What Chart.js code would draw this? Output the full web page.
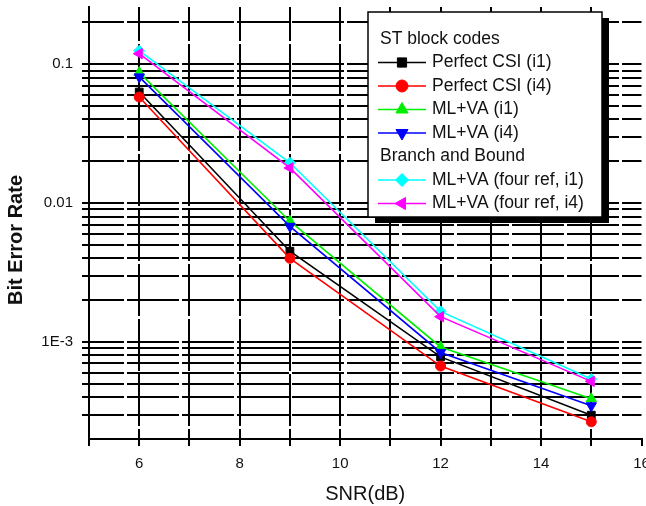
<!doctype html>
<html>
<head>
    <title>Bit Error Rate vs SNR</title>
    <meta charset="UTF-8">
    <script src="https://cdn.jsdelivr.net/npm/chart.js@4.4.0/dist/chart.umd.min.js"></script>
    <style>
        html, body { margin: 0; padding: 0; background: #fff; overflow: hidden; }
        /* canvas a bit wider than the window so the "16" label gets cut like the original */
        #canvas-holder { width: 660px; height: 506px; }
    </style>
</head>
<body>
<div id="canvas-holder">
    <canvas id="chart-area" width="660" height="506"></canvas>
</div>
<script>
    // SNR (dB) values on the x axis
    var snr = [6, 9, 12, 15];

    // bit error rate
    var perfectCsiI1 = [0.063, 0.0045, 0.00078, 0.000297];
    var perfectCsiI4 = [0.058, 0.0040, 0.00067, 0.000266];
    var mlVaI1 = [0.087, 0.0074, 0.00092, 0.00039];
    var mlVaI4 = [0.081, 0.0068, 0.00084, 0.000347];
    var mlVaFourRefI1 = [0.125, 0.0195, 0.00166, 0.00054];
    var mlVaFourRefI4 = [0.119, 0.0179, 0.00152, 0.00052];

    var seriesNames = ['Perfect CSI (i1)', 'Perfect CSI (i4)', 'ML+VA (i1)', 'ML+VA (i4)',
        'ML+VA (four ref, i1)', 'ML+VA (four ref, i4)'];
    var seriesValues = [perfectCsiI1, perfectCsiI4, mlVaI1, mlVaI4, mlVaFourRefI1, mlVaFourRefI4];

    // legend section headers and which series sit under each
    var legendHeaders = ['ST block codes', 'Branch and Bound'];
    var legendGroups = [[0, 1, 2, 3], [4, 5]];

    // tick labels
    var xLabelValues = [6, 8, 10, 12, 14, 16];
    var yLabelValues = [0.1, 0.01, 0.001];
    var yLabelTexts = ['0.1', '0.01', '1E-3'];

    var xMin = 5, xMax = 16;
    var yMin = 0.0002, yMax = 0.258;

    var colors = ['#000000', '#ff0000', '#00ee00', '#0000ff', '#00ffff', '#ff00ff'];
    var markers = ['rect', 'circle', 'triangle', 'triangle', 'rectRot', 'triangle'];
    var markerRot = [0, 0, 0, 180, 0, 270];
    var markerSize = [5.5, 5, 6, 6, 5.5, 6];

    // log grid lines 1..9 x 10^n inside the range
    var yGridValues = [];
    for (var e = -4; e <= -1; e++) {
        for (var m = 1; m <= 9; m++) {
            var v = parseFloat((m * Math.pow(10, e)).toPrecision(3));
            if (v > yMin * 1.0001 && v < yMax) yGridValues.push(v);
        }
    }

    var datasets = [];
    for (var i = 0; i < seriesNames.length; i++) {
        datasets.push({
            label: seriesNames[i],
            data: snr.map(function (x, k) { return {x: x, y: seriesValues[i][k]}; }),
            borderColor: colors[i],
            backgroundColor: colors[i],
            borderWidth: 1.6,
            pointStyle: markers[i],
            rotation: markerRot[i],
            pointRadius: markerSize[i],
            pointBorderWidth: 1,
            pointBackgroundColor: colors[i],
            pointBorderColor: colors[i],
            order: seriesNames.length - i,
            tension: 0
        });
    }

    // legend box with section headers, drawn on top of the plot
    var boxLegend = {
        id: 'boxLegend',
        afterDraw: function (chart) {
            var ctx = chart.ctx;
            var bx = 368, by = 12, bw = 234, bh = 205;
            ctx.save();
            ctx.fillStyle = '#000';
            ctx.fillRect(bx + 7, by + 6, bw, bh);
            ctx.fillStyle = '#fff';
            ctx.fillRect(bx, by, bw, bh);
            ctx.strokeStyle = '#000';
            ctx.lineWidth = 1.5;
            ctx.strokeRect(bx, by, bw, bh);

            ctx.font = '17.5px "Liberation Sans", Arial, sans-serif';
            ctx.textBaseline = 'middle';
            ctx.textAlign = 'left';
            var y = 39, step = 23.5;
            legendGroups.forEach(function (group, g) {
                ctx.fillStyle = '#111';
                ctx.fillText(legendHeaders[g], 380, y);
                y += step;
                group.forEach(function (idx) {
                    ctx.strokeStyle = colors[idx];
                    ctx.lineWidth = 1.5;
                    ctx.beginPath();
                    ctx.moveTo(378, y);
                    ctx.lineTo(426, y);
                    ctx.stroke();
                    ctx.fillStyle = colors[idx];
                    ctx.strokeStyle = colors[idx];
                    ctx.lineWidth = 1;
                    Chart.helpers.drawPoint(ctx, {
                        pointStyle: markers[idx],
                        rotation: markerRot[idx],
                        radius: markerSize[idx] + 1,
                        borderWidth: 1
                    }, 402, y);
                    ctx.fillStyle = '#111';
                    ctx.fillText(seriesNames[idx], 432, y);
                    y += step;
                });
            });

            // y axis title
            ctx.translate(16, 240);
            ctx.rotate(-Math.PI / 2);
            ctx.textAlign = 'center';
            ctx.font = 'bold 20px "Liberation Sans", Arial, sans-serif';
            ctx.fillStyle = '#111';
            ctx.fillText('Bit Error Rate', 0, 0);
            ctx.restore();
        }
    };

    var gridColor = function (c) {
        return (c.tick && c.tick.value === xMax) ? 'rgba(0,0,0,0)' : '#000';
    };

    var config = {
        type: 'line',
        data: {datasets: datasets},
        options: {
            responsive: false,
            devicePixelRatio: 1,
            animation: false,
            layout: {padding: {top: 6, right: 18.5, left: 0, bottom: 0}},
            plugins: {
                legend: {display: false},
                tooltip: {enabled: false}
            },
            scales: {
                x: {
                    type: 'linear',
                    min: xMin,
                    max: xMax,
                    afterFit: function (s) {
                        s.height = 67;
                        s.paddingLeft = 0;
                        s.paddingRight = 0;
                    },
                    ticks: {
                        stepSize: 1,
                        autoSkip: false,
                        maxRotation: 0,
                        padding: 9,
                        color: '#111',
                        font: {family: '"Liberation Sans", Arial, sans-serif', size: 15},
                        callback: function (v) {
                            return xLabelValues.indexOf(v) >= 0 ? String(v) : '';
                        }
                    },
                    grid: {color: gridColor, lineWidth: 2, tickColor: '#000', tickWidth: 2, tickLength: 7},
                    border: {display: true, color: '#000', width: 2, dash: [52, 3], dashOffset: 18},
                    title: {
                        display: true,
                        text: 'SNR(dB)',
                        color: '#111',
                        padding: {top: 0, bottom: 0},
                        font: {family: '"Liberation Sans", Arial, sans-serif', size: 20}
                    }
                },
                y: {
                    type: 'logarithmic',
                    min: yMin,
                    max: yMax,
                    afterBuildTicks: function (s) {
                        s.ticks = yGridValues.map(function (v) { return {value: v}; });
                    },
                    afterFit: function (s) {
                        s.width = 89;
                        s.paddingTop = 0;
                        s.paddingBottom = 0;
                    },
                    ticks: {
                        autoSkip: false,
                        padding: 9,
                        color: '#111',
                        font: {family: '"Liberation Sans", Arial, sans-serif', size: 15},
                        callback: function (v) {
                            for (var k = 0; k < yLabelValues.length; k++) {
                                if (Math.abs(v - yLabelValues[k]) / yLabelValues[k] < 1e-6) return yLabelTexts[k];
                            }
                            return '';
                        }
                    },
                    grid: {color: '#000', lineWidth: 2, tickColor: '#000', tickWidth: 2, tickLength: 7},
                    border: {display: true, color: '#000', width: 2, dash: [52, 3], dashOffset: 18},
                    title: {display: false}
                }
            }
        },
        plugins: [boxLegend]
    };

    var ctx = document.getElementById('chart-area').getContext('2d');
    window.myChart = new Chart(ctx, config);
</script>
</body>
</html>
